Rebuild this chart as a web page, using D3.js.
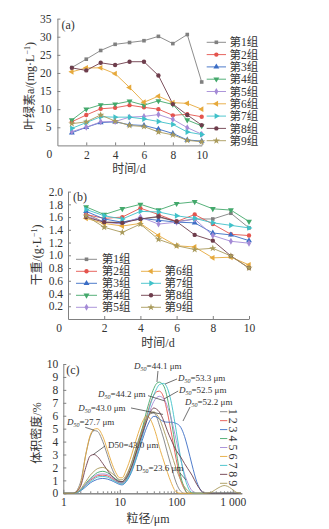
<!DOCTYPE html>
<html>
<head>
<meta charset="utf-8">
<script src="https://cdn.jsdelivr.net/npm/d3@7"></script>
<style>
  body { margin: 0; background: #fff; }
  svg { display: block; }
  text { font-family: "Liberation Serif", "Noto Sans CJK SC", serif; fill: #333; }
</style>
</head>
<body>
<div id="chart"></div>
<script>
// ---- data ----
const days = [1, 2, 3, 4, 5, 6, 7, 8, 9, 10];
const groupNames = ['第1组', '第2组', '第3组', '第4组', '第5组', '第6组', '第7组', '第8组', '第9组'];
const groupColors = ['#808080', '#e4544d', '#3b6dc5', '#43a86b', '#a48ad6', '#e6a93c', '#3fc1c9', '#6e3d4c', '#a99a5b'];
const groupSymbols = ['square', 'circle', 'up', 'down', 'diamond', 'left', 'right', 'circle', 'star'];

// (a) chlorophyll a, mg/L, one row per group
const chlA = [
  [21.5, 23.8, 26.2, 27.9, 28.4, 28.9, 30.1, 28.1, 30.6, 17.5],
  [6.5, 8.4, 10.1, 10.4, 11.1, 10.5, 10.0, 8.3, 8.6, 7.9],
  [3.5, 5.0, 6.3, 6.5, 5.7, 5.5, 4.5, 3.3, 1.5, 1.2],
  [7.0, 10.0, 11.2, 11.4, 12.2, 11.1, 12.3, 11.3, 7.0, 5.4],
  [3.8, 5.0, 6.5, 6.6, 7.8, 8.0, 8.5, 7.2, 4.9, 3.1],
  [20.3, 21.4, 21.4, 19.8, 16.0, 11.9, 13.6, 11.8, 11.6, 10.0],
  [4.7, 6.3, 7.9, 7.8, 7.8, 7.3, 6.6, 5.8, 3.7, 3.0],
  [21.4, 20.7, 22.8, 22.2, 23.1, 23.1, 19.3, 11.4, 8.4, 5.6],
  [6.0, 6.5, 8.4, 6.7, 5.5, 5.2, 3.7, 2.9, 1.4, 1.0]
];

// (b) dry weight, g/L
const dryW = [
  [1.65, 1.52, 1.52, 1.57, 1.60, 1.53, 1.57, 1.57, 1.66, 1.43],
  [1.64, 1.58, 1.60, 1.74, 1.64, 1.53, 1.64, 1.49, 1.33, 1.31],
  [1.69, 1.57, 1.52, 1.58, 1.55, 1.52, 1.51, 1.35, 1.32, 1.23],
  [1.76, 1.64, 1.73, 1.80, 1.71, 1.81, 1.84, 1.73, 1.71, 1.53],
  [1.62, 1.52, 1.49, 1.60, 1.49, 1.52, 1.57, 1.31, 1.22, 1.19],
  [1.58, 1.50, 1.46, 1.50, 1.31, 1.15, 1.13, 0.96, 0.97, 0.85],
  [1.72, 1.62, 1.57, 1.69, 1.68, 1.62, 1.58, 1.51, 1.47, 1.43],
  [1.60, 1.52, 1.51, 1.57, 1.61, 1.53, 1.32, 1.23, 0.99, 0.80],
  [1.62, 1.44, 1.36, 1.49, 1.25, 1.15, 1.09, 1.11, 0.99, 0.80]
];

// (c) particle size distribution: sizes in um, density in %
const sizes = [1, 1.5, 2, 2.5, 3, 3.5, 4, 5, 6, 7, 8.5, 10, 11, 13, 16, 20, 25, 30, 35, 40, 45, 50,
  60, 70, 80, 100, 120, 140, 160, 190, 230, 270, 320, 400, 500, 600, 700, 800, 950, 1150, 1400];
const psd = [
  [0, 0, 0.8, 3.0, 4.4, 4.85, 4.8, 4.0, 3.0, 2.1, 1.3, 0.95, 0.9, 1.3, 2.3, 3.7, 5.0, 5.8, 6.15, 6.2, 5.9, 5.3,
   4.2, 3.1, 2.2, 0.8, 0.15, 0, 0, 0, 0, 0, 0, 0, 0, 0, 0, 0, 0, 0, 0],
  [0, 0, 0.2, 0.65, 1.0, 1.2, 1.35, 1.4, 1.35, 1.2, 0.95, 0.8, 0.78, 1.05, 1.9, 3.2, 4.7, 6.0, 7.0, 7.6, 7.85, 7.9,
   7.4, 6.2, 4.9, 2.6, 1.0, 0.3, 0, 0, 0, 0, 0, 0, 0, 0, 0, 0, 0, 0, 0],
  [0, 0, 0.18, 0.5, 0.8, 0.97, 1.08, 1.15, 1.1, 1.0, 0.82, 0.68, 0.65, 0.9, 1.6, 2.8, 4.1, 5.1, 5.7, 5.95, 5.9, 5.75,
   5.55, 5.5, 5.5, 5.4, 5.1, 4.4, 3.5, 2.2, 0.9, 0.25, 0, 0, 0, 0, 0, 0, 0, 0, 0],
  [0, 0, 0.25, 0.75, 1.15, 1.4, 1.6, 1.7, 1.6, 1.4, 1.1, 0.9, 0.85, 1.1, 2.0, 3.4, 5.0, 6.4, 7.4, 8.1, 8.5, 8.6,
   8.3, 7.3, 5.9, 3.2, 1.3, 0.4, 0, 0, 0, 0, 0, 0, 0, 0, 0, 0, 0, 0, 0],
  [0, 0, 0.25, 0.7, 1.05, 1.3, 1.45, 1.5, 1.45, 1.3, 1.0, 0.85, 0.8, 1.0, 1.8, 3.0, 4.4, 5.6, 6.5, 7.1, 7.4, 7.5,
   7.3, 6.7, 5.9, 4.1, 2.6, 1.5, 0.8, 0.2, 0, 0, 0, 0, 0, 0, 0, 0, 0, 0, 0],
  [0, 0, 0.6, 3.0, 4.5, 4.95, 5.0, 4.4, 3.4, 2.5, 1.6, 1.2, 1.2, 1.8, 2.9, 4.3, 5.5, 6.0, 5.7, 5.1, 4.4, 3.6,
   2.5, 1.6, 0.9, 0.1, 0, 0, 0, 0, 0, 0, 0, 0, 0, 0, 0, 0, 0, 0, 0],
  [0, 0, 0.2, 0.6, 0.9, 1.1, 1.25, 1.3, 1.25, 1.1, 0.9, 0.75, 0.72, 0.95, 1.7, 2.9, 4.4, 5.8, 6.9, 7.6, 8.1, 8.4,
   8.5, 8.1, 7.2, 4.8, 2.7, 1.3, 0.5, 0.05, 0, 0, 0, 0, 0, 0, 0, 0, 0, 0, 0],
  [0, 0, 0.5, 2.0, 2.9, 3.0, 2.85, 2.3, 1.8, 1.4, 1.05, 0.9, 0.9, 1.2, 2.0, 3.3, 4.6, 5.6, 6.3, 6.6, 6.5, 6.3,
   5.6, 4.8, 4.2, 3.3, 2.8, 2.3, 1.9, 1.4, 0.7, 0.25, 0, 0, 0, 0, 0, 0, 0, 0, 0],
  [0, 0, 0.3, 0.9, 1.4, 1.7, 1.9, 2.0, 1.85, 1.6, 1.3, 1.05, 1.05, 1.4, 2.3, 3.6, 4.9, 5.8, 6.2, 6.3, 6.1, 5.8,
   4.9, 4.0, 3.2, 1.9, 1.0, 0.5, 0.2, 0.03, 0, 0, 0, 0.05, 0.3, 0.5, 0.6, 0.55, 0.35, 0.08, 0]
];
const psdLabels = ['1', '2', '3', '4', '5', '6', '7', '8', '9'];

// D50 call-outs: text anchor and leader line, in data units (um, %)
const d50Notes = [
  { label: '44.1', style: 'italic', tx: 17.9, ty: 9.61, from: [47.4, 9.46], to: [45.5, 8.61] },
  { label: '53.3', style: 'italic', tx: 107, ty: 8.69, from: [103, 8.84], to: [63, 8.45] },
  { label: '52.5', style: 'italic', tx: 112, ty: 7.76, from: [108, 7.91], to: [60.5, 7.29] },
  { label: '52.2', style: 'italic', tx: 143, ty: 6.83, from: [175, 6.67], to: [131.5, 5.59] },
  { label: '44.2', style: 'italic', tx: 4.13, ty: 7.45, from: [31.6, 7.55], to: [63, 7.14] },
  { label: '43.0', style: 'italic', tx: 1.83, ty: 6.37, from: [15.8, 6.6], to: [58.3, 6.1] },
  { label: '27.7', style: 'italic', tx: 1.16, ty: 5.28, from: [2.45, 5.1], to: [3.5, 4.88] },
  { label: '43.0', style: 'plain', tx: 6.2, ty: 3.5, from: [5.47, 3.66], to: [3.4, 3.0] },
  { label: '23.6', style: 'sub', tx: 19.4, ty: 1.72, from: [116, 1.57], to: [149, 1.03] }
];

// ---- drawing ----
const W = 329, H = 529;
const axisColor = '#808080';
const fontNum = '"Liberation Serif", "Noto Sans CJK SC", serif';

const svg = d3.select('#chart').append('svg')
  .attr('width', W).attr('height', H);

function styleAxis(g) {
  g.attr('font-family', fontNum).attr('font-size', 11.5);
  g.select('.domain').attr('stroke', axisColor);
  g.selectAll('.tick line').attr('stroke', axisColor);
  g.selectAll('.tick text').attr('fill', '#333');
}

function symbolPath(name) {
  const types = {
    square: [d3.symbolSquare, 0, 13], circle: [d3.symbolCircle, 0, 15],
    up: [d3.symbolTriangle, 0, 15], down: [d3.symbolTriangle, 180, 15],
    left: [d3.symbolTriangle, -90, 15], right: [d3.symbolTriangle, 90, 15],
    diamond: [d3.symbolDiamond, 0, 14], star: [d3.symbolStar, 0, 16]
  };
  const t = types[name];
  return { d: d3.symbol().type(t[0]).size(t[2])(), rot: t[1] };
}

function drawSeries(g, x, y, rows) {
  const line = d3.line().x((d, i) => x(days[i])).y(d => y(d));
  rows.forEach((row, k) => {
    g.append('path').datum(row)
      .attr('d', line)
      .attr('fill', 'none')
      .attr('stroke', groupColors[k])
      .attr('stroke-width', 0.9);
  });
  rows.forEach((row, k) => {
    const s = symbolPath(groupSymbols[k]);
    g.selectAll(null).data(row).enter().append('path')
      .attr('d', s.d)
      .attr('transform', (d, i) => `translate(${x(days[i])},${y(d)}) rotate(${s.rot})`)
      .attr('fill', groupColors[k]);
  });
}

function legendItem(g, cx0, cx1, cy, k, tx) {
  g.append('line').attr('x1', cx0).attr('x2', cx1).attr('y1', cy).attr('y2', cy)
    .attr('stroke', groupColors[k]).attr('stroke-width', 0.9);
  const s = symbolPath(groupSymbols[k]);
  g.append('path').attr('d', s.d)
    .attr('transform', `translate(${(cx0 + cx1) / 2},${cy}) rotate(${s.rot})`)
    .attr('fill', groupColors[k]);
  g.append('text').attr('x', tx).attr('y', cy).attr('dy', '0.36em')
    .attr('font-size', 11.5).text(groupNames[k]);
}

function yTitle(cx, cy, main, sup, tail) {
  const t = svg.append('text')
    .attr('transform', `translate(${cx},${cy}) rotate(-90)`)
    .attr('text-anchor', 'middle').attr('font-size', 12);
  t.append('tspan').text(main);
  if (sup) {
    t.append('tspan').attr('font-size', 8).attr('dy', -4.5).text(sup);
    t.append('tspan').attr('dy', 4.5).text(tail);
  }
}

// ---------- panel (a) ----------
const xA = d3.scaleLinear().domain([0, 10]).range([57.4, 201.7]);
const yA = d3.scaleLinear().domain([0, 35]).range([145.4, 18.6]);
const gA = svg.append('g');

gA.append('g').attr('transform', `translate(0,${yA(0)})`)
  .call(d3.axisBottom(xA).tickValues([2, 4, 6, 8, 10]).tickSizeInner(-3).tickSizeOuter(0).tickPadding(5))
  .call(styleAxis);
gA.append('g').attr('transform', `translate(${xA(0)},0)`)
  .call(d3.axisLeft(yA).tickValues([5, 10, 15, 20, 25, 30, 35]).tickSizeInner(-3).tickSizeOuter(0).tickPadding(6))
  .call(styleAxis);
gA.append('text').attr('x', xA(0) - 8).attr('y', yA(0) + 13).attr('text-anchor', 'middle')
  .attr('font-size', 11.5).text('0');
gA.append('text').attr('x', xA(0) + 4).attr('y', yA(35) + 10).attr('font-size', 12).text('(a)');

drawSeries(gA, xA, yA, chlA);
groupNames.forEach((n, k) => legendItem(gA, 206.7, 226, 42.3 + k * 12.3, k, 229.5));

yTitle(34, 86, '叶绿素a/(mg·L', '−1', ')');
svg.append('text').attr('x', 129).attr('y', 172.5).attr('text-anchor', 'middle')
  .attr('font-size', 12).text('时间/d');

// ---------- panel (b) ----------
const xB = d3.scaleLinear().domain([0, 10]).range([68, 249]);
const yB = d3.scaleLinear().domain([0, 2]).range([319, 191.6]);
const gB = svg.append('g');

gB.append('g').attr('transform', `translate(0,${yB(0)})`)
  .call(d3.axisBottom(xB).tickValues([2, 4, 6, 8, 10]).tickSizeInner(-3).tickSizeOuter(0).tickPadding(5))
  .call(styleAxis);
gB.append('g').attr('transform', `translate(${xB(0)},0)`)
  .call(d3.axisLeft(yB).tickValues(d3.range(1, 11).map(d => d / 5)).tickFormat(d3.format('.1f'))
    .tickSizeInner(-3).tickSizeOuter(0).tickPadding(5))
  .call(styleAxis);
gB.append('text').attr('x', xB(0) - 9).attr('y', yB(0) + 13).attr('text-anchor', 'middle')
  .attr('font-size', 11.5).text('0');
gB.append('text').attr('x', xB(0) + 5).attr('y', yB(2) + 9).attr('font-size', 12).text('(b)');

drawSeries(gB, xB, yB, dryW);
groupNames.forEach((n, k) => {
  if (k < 5) legendItem(gB, 76, 97, 259.3 + k * 12, k, 101.7);
  else legendItem(gB, 141, 161, 259.3 + (k - 4) * 12, k, 164.5);
});

yTitle(41, 255, '干重/(g·L', '−1', ')');
svg.append('text').attr('x', 158).attr('y', 346.5).attr('text-anchor', 'middle')
  .attr('font-size', 12).text('时间/d');

// ---------- panel (c) ----------
const xC = d3.scaleLog().domain([1, 1445]).range([63.3, 241.8]);
const yC = d3.scaleLinear().domain([0, 10]).range([493.3, 364]);
const gC = svg.append('g');

const minorTicks = [];
[1, 10, 100, 1000].forEach(dec => d3.range(2, 10).forEach(m => { if (dec * m < 1445) minorTicks.push(dec * m); }));
gC.append('g').attr('transform', `translate(0,${yC(0)})`)
  .call(d3.axisBottom(xC).tickValues(minorTicks).tickFormat('').tickSizeInner(-2).tickSizeOuter(0))
  .call(styleAxis);
gC.append('g').attr('transform', `translate(0,${yC(0)})`)
  .call(d3.axisBottom(xC).tickValues([1, 10, 100, 1000]).tickFormat(d => d === 1000 ? '1 000' : d)
    .tickSizeInner(-3.5).tickSizeOuter(0).tickPadding(5))
  .call(styleAxis);
gC.append('g').attr('transform', `translate(${xC(1)},0)`)
  .call(d3.axisLeft(yC).tickValues(d3.range(0, 11)).tickSizeInner(-3).tickSizeOuter(0).tickPadding(5))
  .call(styleAxis);
gC.append('text').attr('x', xC(1) + 3).attr('y', yC(10) + 10).attr('font-size', 12).text('(c)');

const psdLine = d3.line().x((d, i) => xC(sizes[i])).y(d => yC(d)).curve(d3.curveMonotoneX);
psd.forEach((row, k) => {
  gC.append('path').datum(row)
    .attr('d', psdLine)
    .attr('fill', 'none')
    .attr('stroke', groupColors[k])
    .attr('stroke-width', 0.9);
});

// D50 call-outs
d50Notes.forEach(n => {
  gC.append('line')
    .attr('x1', xC(n.from[0])).attr('y1', yC(n.from[1]))
    .attr('x2', xC(n.to[0])).attr('y2', yC(n.to[1]))
    .attr('stroke', '#333').attr('stroke-width', 0.7);
  const t = gC.append('text').attr('x', xC(n.tx)).attr('y', yC(n.ty)).attr('font-size', 9);
  if (n.style === 'plain') {
    t.text(`D50=${n.label} μm`);
  } else {
    t.append('tspan').attr('font-style', n.style === 'italic' ? 'italic' : null).text('D');
    t.append('tspan').attr('font-size', 6).attr('dy', 2)
      .attr('font-style', n.style === 'italic' ? 'italic' : null).text('50');
    t.append('tspan').attr('dy', -2).text(`=${n.label} μm`);
  }
});

// legend (c): short lines with rotated digits
psdLabels.forEach((lab, k) => {
  const cy = 411.7 + k * 8.95;
  gC.append('line').attr('x1', 220).attr('x2', 227.3).attr('y1', cy).attr('y2', cy)
    .attr('stroke', groupColors[k]).attr('stroke-width', 0.9);
  gC.append('text').attr('transform', `translate(229,${cy}) rotate(90)`)
    .attr('text-anchor', 'middle').attr('font-size', 12).text(lab);
});

yTitle(41, 433, '体积密度/%');
svg.append('text').attr('x', 148).attr('y', 523).attr('text-anchor', 'middle')
  .attr('font-size', 12).text('粒径/μm');
</script>
</body>
</html>
